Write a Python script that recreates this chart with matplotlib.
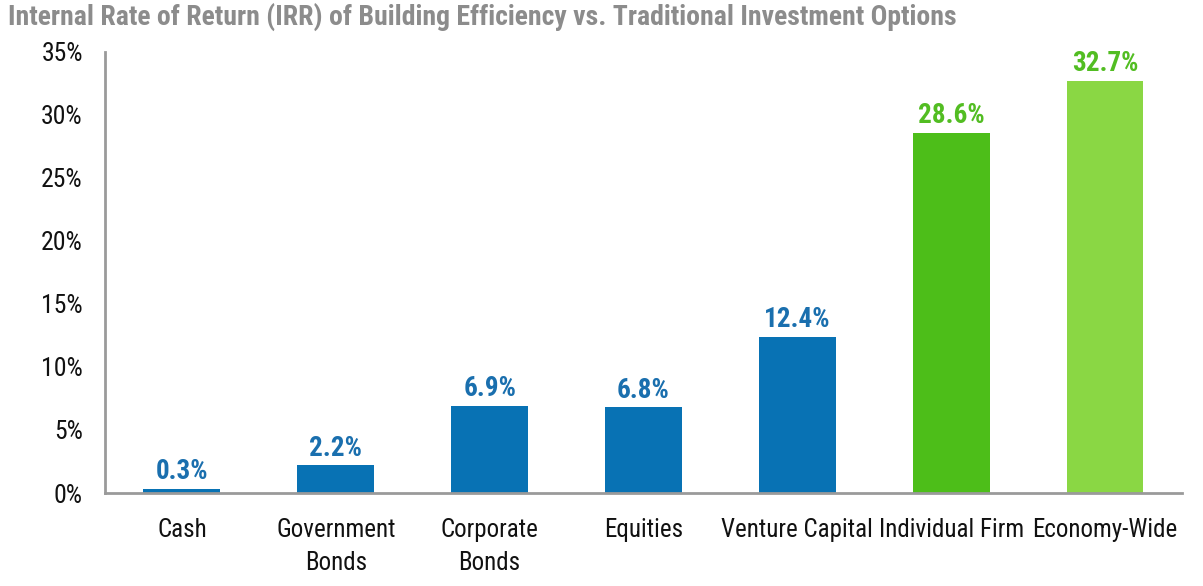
import matplotlib
matplotlib.use("Agg")
import matplotlib.pyplot as plt

categories = ["Cash", "Government\nBonds", "Corporate\nBonds", "Equities",
              "Venture Capital", "Individual Firm", "Economy-Wide"]
values = [0.3, 2.2, 6.9, 6.8, 12.4, 28.6, 32.7]
labels = ["0.3%", "2.2%", "6.9%", "6.8%", "12.4%", "28.6%", "32.7%"]
yticks = [0, 5, 10, 15, 20, 25, 30, 35]
ytick_labels = ["0%", "5%", "10%", "15%", "20%", "25%", "30%", "35%"]

blue = "#0872B4"
dgreen = "#4DBE19"
lgreen = "#8AD744"
bar_colors = [blue] * 5 + [dgreen, lgreen]
label_colors = ["#1A6FAE"] * 5 + ["#52BD22", "#52BD22"]

plt.rcParams["font.family"] = ["Roboto Condensed", "DejaVu Sans"]

fig = plt.figure(figsize=(12.03, 5.86), dpi=100)
ax = fig.add_axes([0.0873, 0.1587, 0.8952, 0.7526])

x = list(range(len(categories)))
ax.bar(x, values, width=0.5, color=bar_colors, zorder=2)
for xi, v, lab, c in zip(x, values, labels, label_colors):
    ax.text(xi, v + 0.3, lab, ha="center", va="bottom", fontsize=19.5,
            fontweight="bold", color=c)

ax.set_xlim(-0.5, 6.5)
ax.set_ylim(0, 35)
ax.set_yticks(yticks)
ax.set_yticklabels(ytick_labels, fontsize=18.5, color="#111111")
ax.set_xticks(x)
ax.set_xticklabels(categories, fontsize=18, color="#111111", linespacing=1.45)
ax.tick_params(axis="both", length=0)
ax.tick_params(axis="y", pad=16)
ax.tick_params(axis="x", pad=18)

for s in ["top", "right"]:
    ax.spines[s].set_visible(False)
for s in ["left", "bottom"]:
    ax.spines[s].set_color("#9A9A9A")
    ax.spines[s].set_linewidth(2)

fig.text(0.0066, 0.972, "Internal Rate of Return (IRR) of Building Efficiency vs. Traditional Investment Options",
         ha="left", va="center", fontsize=20, fontweight="bold", color="#8C8C8C")

fig.savefig("out.png", dpi=100)
